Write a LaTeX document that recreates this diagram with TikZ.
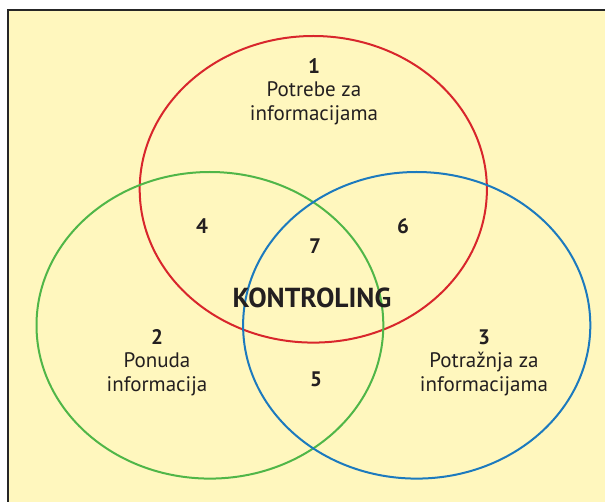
\documentclass[tikz,border=0pt]{standalone}
\usepackage{fontspec}
\setmainfont{PT Sans}
\definecolor{bgyellow}{RGB}{255,247,190}
\definecolor{vred}{RGB}{216,38,44}
\definecolor{vgreen}{RGB}{80,182,72}
\definecolor{vblue}{RGB}{28,122,190}
\definecolor{txt}{RGB}{35,31,32}
\tikzset{
  setline/.style={line width=2pt},
  lbl/.style={text=txt, align=center, inner sep=0pt, font=\fontsize{21}{24}\selectfont},
  num/.style={text=txt, inner sep=0pt, font=\fontsize{21}{24}\selectfont\bfseries},
  title/.style={text=txt, inner sep=0pt, font=\fontsize{27.5}{30}\selectfont\bfseries}
}
\begin{document}
\begin{tikzpicture}[x=1pt,y=-1pt]
\useasboundingbox (0,0) rectangle (605,502);
\fill[white] (0,0) rectangle (605,502);
\fill[bgyellow] (8,10) rectangle (610,510);
\draw[line width=2pt, black!85] (8,510) -- (8,10) -- (610,10);
% sets
\draw[setline, vred]   (313.3,189.3) ellipse [x radius=173.6, y radius=153.3];
\draw[setline, vgreen] (209.9,325.3) ellipse [x radius=173.4, y radius=153.3];
\draw[setline, vblue]  (416.7,325.3) ellipse [x radius=173.6, y radius=153.3];
% labels
\node[num] (n1) at (314,66) {1};
\node[lbl] (t1) at (314,103) {Potrebe za\\informacijama};
\node[num] (n2) at (157,337) {2};
\node[lbl] (t2) at (157,374) {Ponuda\\informacija};
\node[num] (n3) at (484,337) {3};
\node[lbl] (t3) at (484,374) {Potražnja za\\informacijama};
\node[num] (n4) at (202,226) {4};
\node[num] (n5) at (316,379) {5};
\node[num] (n6) at (403,226) {6};
\node[num] (n7) at (315,246) {7};
\node[title] (k) at (312,298) {KONTROLING};
\end{tikzpicture}
\end{document}
